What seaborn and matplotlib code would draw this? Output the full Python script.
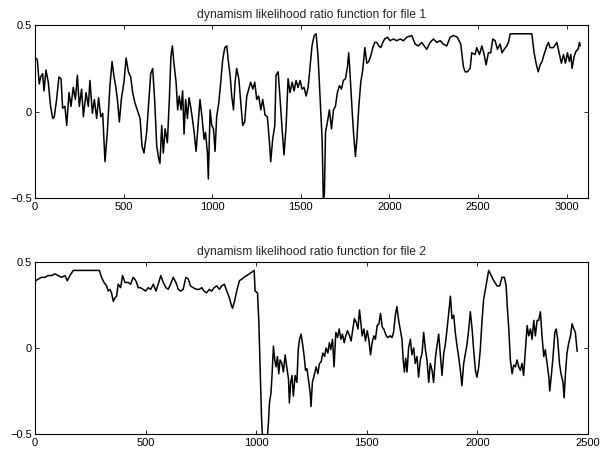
import matplotlib
matplotlib.use("Agg")
import matplotlib.pyplot as plt
import pandas as pd
import seaborn as sns

# values
file1_x = [
    4, 13, 24, 32, 43, 51, 62, 75, 88, 100, 109, 122, 135, 147, 156, 169, 179, 192, 203, 216,
    228, 239, 250, 263, 273, 288, 301, 310, 324, 335, 348, 359, 371, 382, 395, 408, 423, 435,
    446, 455, 465, 476, 487, 502, 514, 527, 540, 551, 564, 577, 593, 604, 615, 630, 643, 653,
    664, 675, 687, 696, 705, 715, 724, 734, 747, 758, 767, 775, 784, 796, 805, 814, 824, 833,
    841, 850, 860, 869, 878, 888, 898, 909, 920, 931, 943, 954, 962, 973, 978, 988, 997, 1007,
    1016, 1025, 1037, 1048, 1059, 1071, 1082, 1091, 1101, 1110, 1120, 1129, 1138, 1150, 1161,
    1172, 1183, 1195, 1206, 1217, 1229, 1240, 1251, 1262, 1274, 1285, 1298, 1311, 1323, 1330,
    1341, 1353, 1360, 1372, 1383, 1394, 1405, 1417, 1428, 1439, 1451, 1462, 1473, 1484, 1496,
    1507, 1518, 1530, 1541, 1552, 1563, 1575, 1586, 1597, 1609, 1620, 1627, 1633, 1639, 1650,
    1661, 1673, 1684, 1695, 1706, 1718, 1729, 1740, 1752, 1763, 1770, 1778, 1789, 1797, 1808,
    1816, 1827, 1838, 1849, 1861, 1872, 1883, 1894, 1906, 1917, 1928, 1940, 1951, 1962, 1973,
    1989, 2003, 2022, 2041, 2060, 2079, 2097, 2126, 2145, 2163, 2182, 2210, 2229, 2248, 2267,
    2286, 2304, 2323, 2342, 2361, 2383, 2402, 2417, 2427, 2440, 2455, 2464, 2483, 2492, 2508,
    2521, 2534, 2545, 2558, 2571, 2583, 2596, 2609, 2624, 2635, 2647, 2662, 2671, 2681, 2803,
    2816, 2827, 2839, 2850, 2861, 2872, 2888, 2897, 2906, 2925, 2944, 2959, 2970, 2982, 2993,
    3004, 3015, 3023, 3030, 3042, 3053, 3064, 3072, 3076,
]
file1_y = [
    0.31, 0.30, 0.16, 0.20, 0.22, 0.12, 0.24, 0.17, 0.03, -0.04, -0.03, 0.07, 0.20, 0.19, 0.02,
    0.03, -0.08, 0.11, 0.03, 0.14, 0.07, 0.21, 0.03, 0.13, -0.03, 0.11, 0.03, 0.18, -0.01, 0.07,
    -0.04, 0.08, -0.03, -0.01, -0.29, -0.12, 0.15, 0.29, 0.20, 0.15, 0.07, -0.06, 0.07, 0.17,
    0.31, 0.23, 0.20, 0.11, 0.05, 0.01, -0.04, -0.20, -0.24, -0.12, 0.07, 0.22, 0.25, 0.07,
    -0.20, -0.26, -0.30, -0.08, -0.24, -0.10, -0.18, 0.07, 0.32, 0.38, 0.28, 0.17, 0.01, 0.09,
    0.01, 0.12, -0.13, 0.07, -0.04, 0.08, 0.03, -0.04, -0.12, -0.23, -0.08, 0.07, -0.04, -0.16,
    -0.12, -0.24, -0.39, 0.01, -0.08, -0.10, -0.23, -0.03, 0.05, 0.17, 0.30, 0.37, 0.38, 0.29,
    0.21, 0.09, 0.01, 0.17, 0.25, 0.19, 0.05, -0.08, -0.06, 0.09, 0.13, 0.17, 0.13, 0.17, 0.07,
    0.09, 0.01, 0.07, -0.02, -0.03, -0.18, -0.29, -0.16, -0.08, 0.21, 0.23, 0.07, -0.10, -0.25,
    -0.08, 0.19, 0.11, 0.17, 0.12, 0.18, 0.14, 0.18, 0.13, 0.14, 0.09, 0.14, 0.26, 0.38, 0.44,
    0.45, 0.32, 0.07, -0.16, -0.52, -0.47, -0.12, -0.06, 0.01, -0.10, 0.01, 0.03, 0.11, 0.15,
    0.13, 0.18, 0.19, 0.26, 0.34, 0.21, 0.01, -0.12, -0.26, -0.16, 0.03, 0.17, 0.24, 0.37, 0.28,
    0.29, 0.32, 0.37, 0.40, 0.40, 0.38, 0.37, 0.40, 0.42, 0.43, 0.41, 0.42, 0.41, 0.42, 0.41,
    0.43, 0.44, 0.39, 0.38, 0.40, 0.36, 0.40, 0.42, 0.40, 0.41, 0.39, 0.38, 0.43, 0.44, 0.43,
    0.39, 0.26, 0.23, 0.23, 0.25, 0.34, 0.33, 0.37, 0.33, 0.38, 0.33, 0.27, 0.34, 0.34, 0.42,
    0.41, 0.36, 0.39, 0.34, 0.36, 0.38, 0.40, 0.45, 0.45, 0.34, 0.28, 0.23, 0.27, 0.29, 0.33,
    0.38, 0.40, 0.37, 0.37, 0.40, 0.33, 0.28, 0.33, 0.28, 0.34, 0.29, 0.33, 0.25, 0.32, 0.35,
    0.36, 0.40, 0.38,
]

file2_x = [
    3, 15, 30, 45, 60, 75, 90, 105, 120, 136, 146, 158, 173, 188, 291, 301, 312, 324, 331, 339,
    346, 354, 361, 369, 376, 387, 396, 407, 422, 432, 444, 456, 467, 477, 489, 500, 512, 523,
    535, 547, 557, 569, 580, 592, 602, 613, 625, 637, 648, 658, 670, 682, 693, 703, 715, 730,
    743, 754, 764, 776, 788, 799, 810, 822, 834, 844, 856, 867, 879, 885, 893, 902, 912, 924,
    935, 945, 957, 969, 980, 991, 995, 1006, 1012, 1018, 1024, 1030, 1040, 1048, 1055, 1060,
    1067, 1072, 1078, 1084, 1090, 1096, 1102, 1108, 1116, 1123, 1131, 1138, 1146, 1150, 1156,
    1162, 1168, 1176, 1184, 1190, 1196, 1203, 1211, 1217, 1223, 1229, 1236, 1244, 1248, 1254,
    1262, 1271, 1279, 1286, 1294, 1301, 1309, 1316, 1324, 1331, 1337, 1345, 1352, 1360, 1368,
    1375, 1383, 1390, 1398, 1405, 1413, 1422, 1429, 1437, 1444, 1452, 1460, 1467, 1473, 1479,
    1487, 1494, 1502, 1509, 1517, 1524, 1532, 1539, 1547, 1555, 1562, 1570, 1577, 1585, 1594,
    1606, 1614, 1621, 1629, 1636, 1644, 1651, 1659, 1664, 1670, 1676, 1682, 1689, 1697, 1704,
    1712, 1719, 1727, 1734, 1742, 1750, 1757, 1765, 1772, 1780, 1787, 1795, 1802, 1810, 1817,
    1825, 1832, 1840, 1848, 1855, 1863, 1870, 1878, 1885, 1893, 1900, 1908, 1915, 1923, 1930,
    1938, 1946, 1953, 1961, 1968, 1976, 1983, 1991, 1998, 2006, 2013, 2021, 2028, 2036, 2044,
    2051, 2059, 2074, 2089, 2101, 2111, 2122, 2130, 2134, 2142, 2149, 2157, 2164, 2172, 2179,
    2187, 2194, 2202, 2209, 2217, 2225, 2232, 2240, 2247, 2255, 2262, 2270, 2277, 2285, 2292,
    2300, 2307, 2315, 2323, 2327, 2335, 2342, 2350, 2356, 2363, 2371, 2378, 2387, 2392, 2398,
    2405, 2413, 2421, 2428, 2436, 2443, 2451,
]
file2_y = [
    0.39, 0.40, 0.41, 0.41, 0.42, 0.42, 0.43, 0.42, 0.41, 0.42, 0.39, 0.42, 0.45, 0.45, 0.45,
    0.41, 0.38, 0.36, 0.33, 0.34, 0.32, 0.27, 0.29, 0.30, 0.37, 0.35, 0.42, 0.38, 0.38, 0.37,
    0.41, 0.39, 0.35, 0.35, 0.34, 0.33, 0.35, 0.34, 0.37, 0.33, 0.37, 0.42, 0.38, 0.35, 0.34,
    0.37, 0.41, 0.38, 0.34, 0.33, 0.34, 0.41, 0.40, 0.36, 0.35, 0.34, 0.34, 0.35, 0.33, 0.32,
    0.34, 0.33, 0.35, 0.36, 0.34, 0.36, 0.37, 0.33, 0.29, 0.26, 0.23, 0.27, 0.33, 0.39, 0.40,
    0.41, 0.42, 0.43, 0.44, 0.45, 0.33, 0.32, 0.15, -0.13, -0.40, -0.56, -0.60, -0.56, -0.44,
    -0.32, -0.26, -0.15, 0.01, -0.07, -0.11, -0.05, -0.15, -0.07, -0.09, -0.14, -0.04, -0.11,
    -0.18, -0.32, -0.20, -0.16, -0.28, -0.16, -0.20, -0.01, 0.05, 0.08, 0.01, -0.05, -0.13,
    -0.12, -0.18, -0.26, -0.34, -0.20, -0.16, -0.11, -0.15, -0.09, -0.08, -0.03, -0.05, 0.00,
    -0.03, 0.03, -0.01, 0.05, -0.11, 0.09, 0.06, 0.11, 0.05, 0.08, 0.03, 0.07, 0.10, 0.07,
    0.04, 0.11, 0.17, 0.15, 0.11, 0.22, 0.15, 0.07, 0.11, 0.04, 0.10, 0.05, -0.04, 0.03, 0.07,
    0.05, 0.13, 0.14, 0.20, 0.12, 0.11, 0.08, 0.06, 0.07, 0.06, 0.09, 0.19, 0.24, 0.16, 0.11,
    0.05, -0.06, -0.14, -0.06, -0.14, 0.00, 0.05, -0.04, 0.00, -0.09, -0.05, -0.17, -0.07,
    -0.03, 0.09, -0.01, -0.07, -0.20, -0.09, -0.13, -0.20, -0.06, 0.01, 0.08, -0.03, -0.16,
    -0.03, 0.02, 0.11, 0.20, 0.30, 0.17, 0.19, 0.09, 0.01, -0.05, -0.13, -0.22, -0.09, -0.03,
    0.02, 0.11, 0.21, 0.11, -0.01, -0.13, -0.17, -0.11, -0.01, 0.16, 0.28, 0.34, 0.40, 0.45,
    0.43, 0.39, 0.36, 0.36, 0.41, 0.41, 0.36, 0.26, 0.11, -0.07, -0.15, -0.10, -0.11, -0.07,
    -0.11, -0.13, -0.09, -0.16, -0.01, 0.13, 0.07, 0.11, 0.05, 0.16, 0.07, 0.16, 0.16, 0.21,
    0.07, -0.05, -0.01, -0.09, -0.17, -0.25, -0.15, -0.05, 0.09, 0.11, 0.05, -0.09, -0.15,
    -0.20, -0.29, -0.15, -0.03, 0.03, 0.07, 0.14, 0.11, 0.09, -0.02,
]

titles = [
    "dynamism likelihood ratio function for file 1",
    "dynamism likelihood ratio function for file 2",
]
x_limits = [3120, 2500]
x_ticks = [[0, 500, 1000, 1500, 2000, 2500, 3000], [0, 500, 1000, 1500, 2000, 2500]]
y_ticks = [-0.5, 0, 0.5]
y_tick_labels = ["\u22120.5", "0", "0.5"]

sns.set_style("ticks")
plt.rcParams["font.family"] = ["Liberation Sans", "DejaVu Sans"]
plt.rcParams["xtick.direction"] = "in"
plt.rcParams["ytick.direction"] = "in"

fig = plt.figure(figsize=(6.0, 4.49), dpi=100)
ax_top = fig.add_axes([0.0583, 0.559, 0.9217, 0.385])
ax_bot = fig.add_axes([0.0583, 0.0334, 0.9217, 0.3835])

series = [(file1_x, file1_y), (file2_x, file2_y)]
for i, (ax, (xs, ys)) in enumerate(zip([ax_top, ax_bot], series)):
    df = pd.DataFrame({"sample": xs, "ratio": ys})
    sns.lineplot(data=df, x="sample", y="ratio", ax=ax, color="black",
                 linewidth=1.1, estimator=None, sort=False)
    ax.set_xlim(0, x_limits[i])
    ax.set_ylim(-0.5, 0.5)
    ax.set_xticks(x_ticks[i])
    ax.set_yticks(y_ticks)
    ax.set_yticklabels(y_tick_labels)
    ax.set_xlabel("")
    ax.set_ylabel("")
    ax.set_title(titles[i], fontsize=8.7, pad=5)
    ax.tick_params(axis="both", which="both", labelsize=8, length=3, width=0.6,
                   top=True, right=True, colors="black")
    ax.tick_params(axis="x", pad=3)
    ax.tick_params(axis="y", pad=2)
    for sp in ax.spines.values():
        sp.set_visible(True)
        sp.set_linewidth(0.8)
        sp.set_color("black")

fig.savefig("out.png", dpi=100)
